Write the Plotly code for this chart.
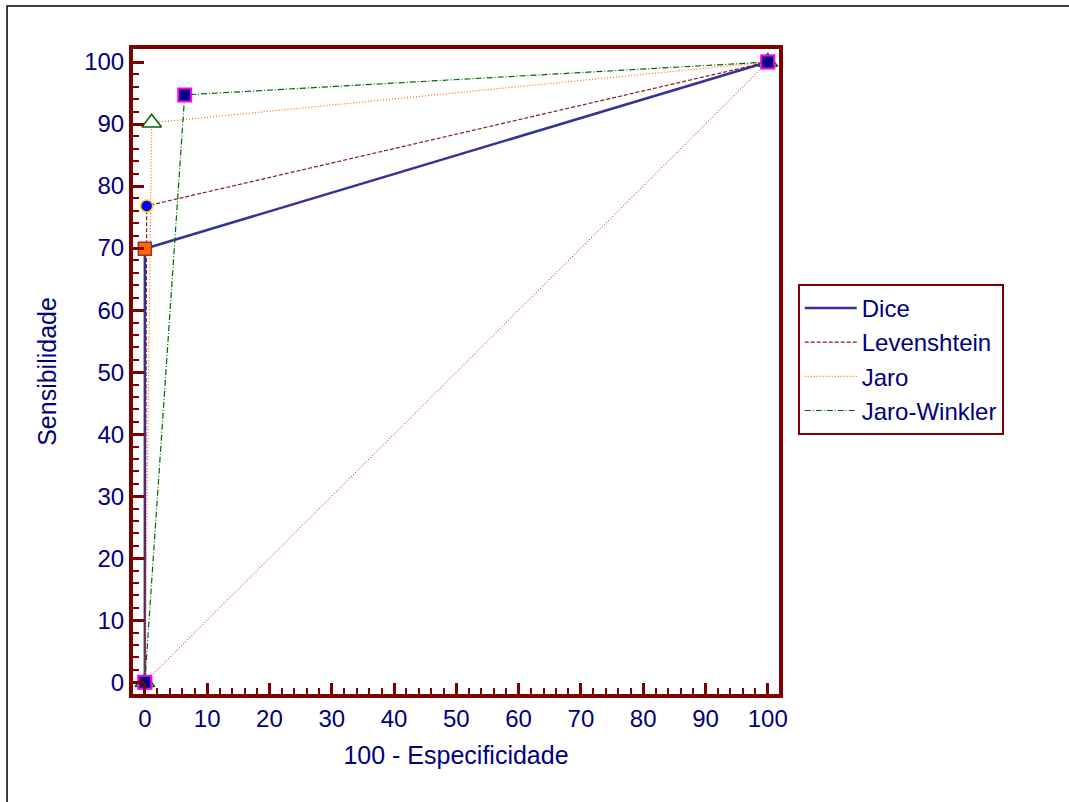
import plotly.graph_objects as go

# Data (100 - specificity, sensitivity)
names = ["Dice", "Levenshtein", "Jaro", "Jaro-Winkler"]
x_dice = [0, 0, 100]
y_dice = [0, 69.9, 100]
x_lev = [0, 0.3, 100]
y_lev = [0, 76.8, 100]
x_jaro = [0, 1.1, 100]
y_jaro = [0, 90.2, 100]
x_jw = [0, 6.4, 100]
y_jw = [0, 94.7, 100]
x_diag = [0, 100]
y_diag = [0, 100]
tick_vals = [0, 10, 20, 30, 40, 50, 60, 70, 80, 90, 100]

NAVY = "#000080"
MAROON = "#800000"
FONT = "Arial, Liberation Sans, sans-serif"

fig = go.Figure()

# diagonal reference line
fig.add_trace(go.Scatter(x=x_diag, y=y_diag, mode="lines",
                         line=dict(color="#cc0000", width=1, dash="1px,2px"),
                         showlegend=False, hoverinfo="skip"))

series = [
    (x_dice, y_dice, "Dice", dict(color="#333399", width=2.5, dash="solid"),
     dict(symbol="square", size=13, color="#ff6600", line=dict(color="#993333", width=1.5))),
    (x_lev, y_lev, "Levenshtein", dict(color="#8b1a1a", width=1.2, dash="4px,2px"),
     dict(symbol="circle", size=12, color="#0000ff", line=dict(color="#ffcc00", width=1.5))),
    (x_jaro, y_jaro, "Jaro", dict(color="#ff6600", width=1.2, dash="1px,2px"),
     dict(symbol="triangle-up", size=17, color="white", line=dict(color="#006600", width=1.5))),
    (x_jw, y_jw, "Jaro-Winkler", dict(color="#006600", width=1.2, dash="6px,2px,1px,2px"),
     dict(symbol="square", size=13, color=NAVY, line=dict(color="#ff00ff", width=2))),
]

for xs, ys, nm, ln, mk in series:
    fig.add_trace(go.Scatter(x=xs, y=ys, mode="lines", name=nm, line=ln))
for xs, ys, nm, ln, mk in series:
    fig.add_trace(go.Scatter(x=xs, y=ys, mode="markers", marker=mk,
                             showlegend=False, name=nm))

axis_common = dict(
    showline=True, linecolor=MAROON, linewidth=4, mirror=True,
    ticks="inside", ticklen=11, tickwidth=3, tickcolor=MAROON,
    tickvals=tick_vals,
    minor=dict(ticks="inside", ticklen=6, tickwidth=2, tickcolor=MAROON, dtick=2, tick0=0),
    showgrid=False, zeroline=False,
    tickfont=dict(family=FONT, size=24, color=NAVY),
)

fig.update_layout(
    width=1069, height=802,
    margin=dict(l=133, r=290, t=49, b=108),
    paper_bgcolor="white", plot_bgcolor="white",
    xaxis=dict(range=[-1.9, 101.8], title=dict(text="100 - Especificidade",
               font=dict(family=FONT, size=25, color=NAVY), standoff=17), **axis_common),
    yaxis=dict(range=[-1.9, 102.1], title=dict(text="Sensibilidade",
               font=dict(family=FONT, size=25, color=NAVY), standoff=21), **axis_common),
    legend=dict(x=1.029, y=0.636, xanchor="left", yanchor="top",
                bordercolor=MAROON, borderwidth=2, bgcolor="white",
                font=dict(family=FONT, size=24, color=NAVY),
                itemwidth=52, tracegroupgap=0),
    showlegend=True,
    shapes=[dict(type="rect", xref="paper", yref="paper",
                 x0=-0.195, x1=1.6, y0=-0.5, y1=1.0667,
                 line=dict(color="black", width=1.5), layer="below")],
)

fig.write_html("out.html", config={"displayModeBar": False},
               post_script="document.body.style.margin='0px';")
